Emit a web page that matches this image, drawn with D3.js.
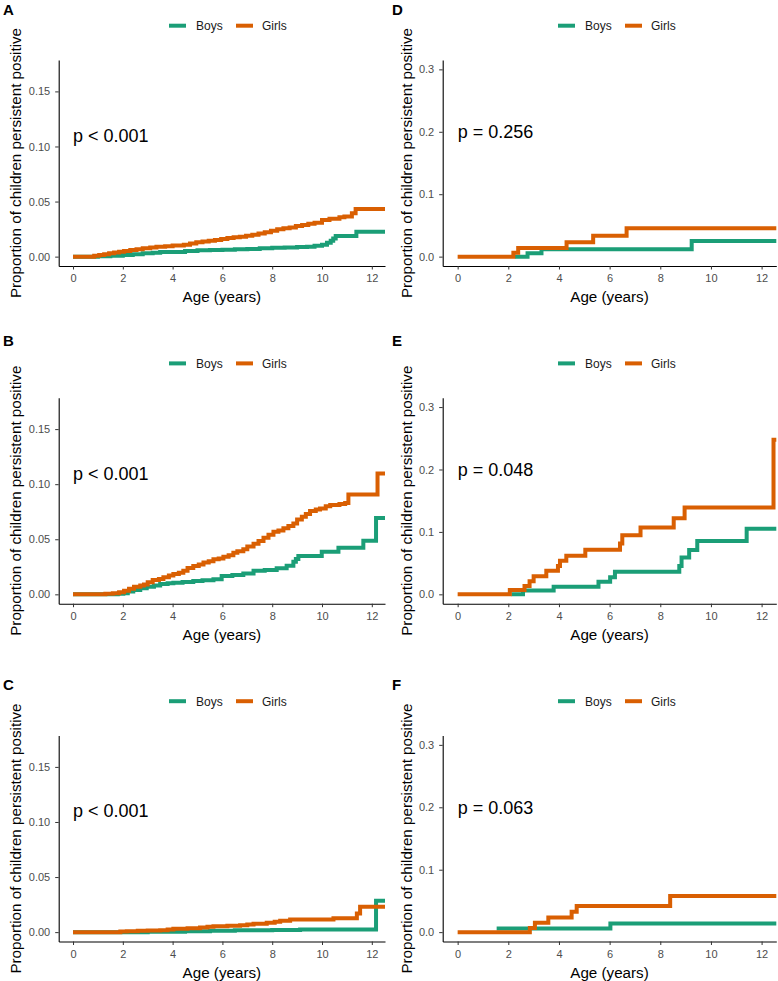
<!DOCTYPE html>
<html lang="en">
<head>
  <meta charset="UTF-8">
  <title>Proportion of children persistent positive by sex</title>
  <script src="https://d3js.org/d3.v7.min.js"></script>
  <style>
    body { margin: 0; background: #fff; }
    svg { font-family: "Liberation Sans", Arial, sans-serif; }
    .tick text { fill: #4d4d4d; font-size: 11px; }
    .tick line { stroke: #333; }
    .domain { stroke: #000; stroke-width: 1.1; }
    .km { fill: none; stroke-width: 4; stroke-linejoin: miter; }
  </style>
</head>
<body>
<svg width="778" height="981"></svg>
<script>
  // ---- data ----
  const xTicks = [0, 2, 4, 6, 8, 10, 12];
  const leftYTicks = [0, 0.05, 0.10, 0.15];
  const rightYTicks = [0, 0.1, 0.2, 0.3];
  const legendLabels = ["Boys", "Girls"];
  const colors = ["#1b9e77", "#d95f02"];
  const panelLabels = ["A", "B", "C", "D", "E", "F"];
  const pValues = ["p < 0.001", "p < 0.001", "p < 0.001", "p = 0.256", "p = 0.048", "p = 0.063"];

  // A
  const aBoysT = [0, 1.0, 1.5, 2.0, 2.4, 2.8, 3.2, 3.5, 4.5, 5.0, 5.5, 6.0, 6.5, 7.0, 7.5, 8.0, 8.5, 9.0, 9.4, 9.7, 10.0, 10.2, 10.35, 10.45, 10.55, 11.38];
  const aBoysV = [0, 0.0003, 0.0008, 0.0015, 0.0022, 0.003, 0.0035, 0.0042, 0.0052, 0.0057, 0.006, 0.0062, 0.0066, 0.007, 0.0075, 0.008, 0.0083, 0.0087, 0.009, 0.0098, 0.0108, 0.0125, 0.0145, 0.0165, 0.0188, 0.0226];
  const aGirlsT = [0, 0.85, 1.05, 1.25, 1.45, 1.65, 1.85, 2.05, 2.3, 2.55, 2.8, 3.1, 3.35, 3.7, 4.0, 4.45, 4.7, 4.95, 5.2, 5.45, 5.7, 5.95, 6.2, 6.45, 6.7, 6.95, 7.2, 7.45, 7.7, 7.95, 8.2, 8.45, 8.7, 8.95, 9.2, 9.45, 9.7, 10.0, 10.3, 10.7, 10.9, 11.2, 11.35];
  const aGirlsV = [0, 0.0008, 0.0015, 0.0022, 0.003, 0.0038, 0.0045, 0.0052, 0.006, 0.0068, 0.0075, 0.0082, 0.009, 0.0095, 0.01, 0.0108, 0.012, 0.013, 0.0138, 0.0145, 0.0152, 0.016, 0.017, 0.0175, 0.018, 0.019, 0.0198, 0.021, 0.0222, 0.0235, 0.0248, 0.0258, 0.0265, 0.0278, 0.0287, 0.0298, 0.0308, 0.0332, 0.0345, 0.0357, 0.0365, 0.0393, 0.0432];

  // B
  const bBoysT = [0, 1.8, 2.02, 2.2, 2.42, 2.7, 2.96, 3.25, 3.5, 3.8, 4.03, 4.4, 4.83, 5.2, 5.64, 5.97, 6.4, 6.84, 7.25, 7.7, 8.18, 8.58, 8.85, 8.95, 9.05, 9.99, 10.66, 11.66, 12.17];
  const bBoysV = [0, 0.0005, 0.001, 0.0025, 0.004, 0.0055, 0.007, 0.008, 0.0094, 0.01, 0.0106, 0.0113, 0.0121, 0.0128, 0.0136, 0.0166, 0.0175, 0.019, 0.0215, 0.0222, 0.0236, 0.026, 0.0296, 0.032, 0.0348, 0.0387, 0.0423, 0.0487, 0.0692];
  const bGirlsT = [0, 1.3, 1.6, 1.85, 2.05, 2.25, 2.45, 2.7, 2.85, 3.0, 3.2, 3.45, 3.63, 3.85, 4.03, 4.25, 4.43, 4.6, 4.83, 5.05, 5.24, 5.45, 5.64, 5.85, 6.04, 6.25, 6.44, 6.6, 6.84, 7.0, 7.25, 7.45, 7.65, 7.85, 8.05, 8.25, 8.45, 8.65, 8.85, 9.0, 9.19, 9.35, 9.52, 9.75, 9.92, 10.15, 10.33, 10.7, 10.93, 11.06, 12.23];
  const bGirlsV = [0, 0.0005, 0.001, 0.002, 0.0033, 0.005, 0.007, 0.008, 0.009, 0.011, 0.013, 0.014, 0.0154, 0.017, 0.0184, 0.0195, 0.0215, 0.024, 0.0257, 0.027, 0.029, 0.03, 0.0318, 0.0325, 0.0342, 0.0355, 0.0378, 0.039, 0.041, 0.0435, 0.046, 0.0485, 0.0514, 0.054, 0.0568, 0.058, 0.0599, 0.062, 0.0644, 0.068, 0.0705, 0.073, 0.0756, 0.077, 0.078, 0.08, 0.081, 0.082, 0.083, 0.0907, 0.1098];

  // C
  const cBoysT = [0, 3.0, 4.5, 5.5, 6.5, 8.0, 9.12, 12.17];
  const cBoysV = [0, 0.0004, 0.0008, 0.0012, 0.0016, 0.002, 0.0024, 0.0284];
  const cGirlsT = [0, 1.9, 2.16, 2.6, 3.0, 3.5, 3.8, 4.03, 4.6, 5.1, 5.4, 5.64, 6.2, 6.71, 7.0, 7.25, 7.78, 8.1, 8.32, 8.72, 10.46, 11.4, 11.53];
  const cGirlsV = [0, 0.0005, 0.0009, 0.0012, 0.0015, 0.0018, 0.0024, 0.003, 0.0036, 0.0042, 0.0048, 0.0054, 0.0058, 0.0063, 0.0069, 0.0075, 0.0085, 0.0094, 0.0103, 0.0115, 0.0127, 0.0169, 0.023];

  // D
  const dBoysT = [2.26, 2.76, 3.31, 9.24];
  const dBoysV = [0, 0.0053, 0.0117, 0.025];
  const dGirlsT = [0, 2.2, 2.39, 4.3, 5.35, 6.67];
  const dGirlsV = [0, 0.0064, 0.0138, 0.0229, 0.0336, 0.0456];

  // E
  const eBoysT = [2.12, 2.58, 3.79, 5.56, 6.02, 6.21, 8.75, 8.84, 9.14, 9.46, 11.41];
  const eBoysV = [0, 0.006, 0.0123, 0.0202, 0.0272, 0.0362, 0.0453, 0.059, 0.0709, 0.0853, 0.105];
  const eGirlsT = [0, 2.06, 2.64, 2.84, 3.0, 3.5, 3.96, 4.04, 4.29, 5.04, 6.41, 6.5, 7.22, 8.53, 8.96, 12.47];
  const eGirlsV = [0, 0.0069, 0.0133, 0.0208, 0.0288, 0.0378, 0.0453, 0.0538, 0.0618, 0.0714, 0.0815, 0.0948, 0.107, 0.122, 0.139, 0.2478];

  // F
  const fBoysT = [1.54, 6.03];
  const fBoysV = [0.0059, 0.0139];
  const fGirlsT = [0, 2.85, 3.05, 3.58, 4.5, 4.7, 8.39];
  const fGirlsV = [0, 0.0067, 0.015, 0.0234, 0.0325, 0.042, 0.058];

  const series = [
    [[aBoysT, aBoysV], [aGirlsT, aGirlsV]],
    [[bBoysT, bBoysV], [bGirlsT, bGirlsV]],
    [[cBoysT, cBoysV], [cGirlsT, cGirlsV]],
    [[dBoysT, dBoysV], [dGirlsT, dGirlsV]],
    [[eBoysT, eBoysV], [eGirlsT, eGirlsV]],
    [[fBoysT, fBoysV], [fGirlsT, fGirlsV]]
  ];

  // ---- layout ----
  const svg = d3.select("svg");
  const cols = [
    { off: 0,   x0: 58.7,  x1: 385,   xMin: -0.575, xMax: 12.53, yDom: [-0.0085, 0.1785], ticks: leftYTicks,  fmt: d3.format(".2f"), pY: 0.11, titleX: 21 },
    { off: 389, x0: 442.7, x1: 776.3, xMin: -0.59,  xMax: 12.58, yDom: [-0.015, 0.315],   ticks: rightYTicks, fmt: d3.format(".1f"), pY: 0.2,  titleX: 23.4 }
  ];
  const rowTops = [60, 397.7, 735.5];
  const labelBase = [14.5, 345.5, 689.5];
  const plotH = 206;

  series.forEach((pair, i) => {
    const col = cols[Math.floor(i / 3)];
    const row = i % 3;
    const top = rowTops[row], bottom = top + plotH;

    const x = d3.scaleLinear().domain([col.xMin, col.xMax]).range([col.x0, col.x1]);
    const y = d3.scaleLinear().domain(col.yDom).range([bottom, top]);

    const g = svg.append("g");

    // axes
    g.append("g")
      .attr("transform", `translate(0,${bottom})`)
      .call(d3.axisBottom(x).tickValues(xTicks).tickSize(3.5).tickSizeOuter(0).tickPadding(5))
      .call(a => a.selectAll(".tick text").attr("font-family", null));
    g.append("g")
      .attr("transform", `translate(${col.x0},0)`)
      .call(d3.axisLeft(y).tickValues(col.ticks).tickFormat(col.fmt).tickSize(3.5).tickSizeOuter(0).tickPadding(5));
    g.selectAll("text").attr("font-family", null).attr("font-size", null);

    // step curves
    const line = d3.line().curve(d3.curveStepAfter).x(d => x(d[0])).y(d => y(d[1]));
    pair.forEach(([ts, vs], k) => {
      const pts = ts.map((t, j) => [t, vs[j]]);
      pts.push([col.xMax, vs[vs.length - 1]]);
      g.append("path").attr("class", "km").attr("stroke", colors[k]).attr("d", line(pts));
    });

    // p-value
    g.append("text")
      .attr("x", x(0)).attr("y", y(col.pY) + 6.4)
      .attr("font-size", 18).attr("fill", "#000")
      .text(pValues[i]);

    // axis titles
    g.append("text")
      .attr("x", (col.x0 + col.x1) / 2).attr("y", bottom + 36)
      .attr("text-anchor", "middle").attr("font-size", 15.2)
      .text("Age (years)");
    g.append("text")
      .attr("transform", `translate(${col.off + col.titleX},${(top + bottom) / 2}) rotate(-90)`)
      .attr("text-anchor", "middle").attr("font-size", 15.2)
      .text("Proportion of children persistent positive");

    // legend
    const ly = top - 34.3;
    const keyX = [169, 236], textX = [196, 262];
    legendLabels.forEach((lab, k) => {
      g.append("line")
        .attr("x1", col.off + keyX[k]).attr("x2", col.off + keyX[k] + 17)
        .attr("y1", ly).attr("y2", ly)
        .attr("stroke", colors[k]).attr("stroke-width", 4);
      g.append("text")
        .attr("x", col.off + textX[k]).attr("y", ly + 4.3)
        .attr("font-size", 12).attr("fill", "#1a1a1a")
        .text(lab);
    });

    // panel letter
    g.append("text")
      .attr("x", col.off + 3).attr("y", labelBase[row])
      .attr("font-size", 15).attr("font-weight", "bold")
      .text(panelLabels[i]);
  });
</script>
</body>
</html>
